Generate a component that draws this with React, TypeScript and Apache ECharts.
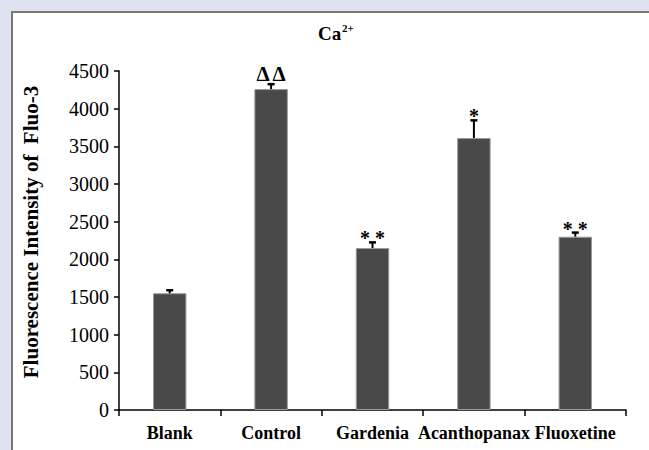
import React, { useEffect, useRef } from "react";
import * as echarts from "echarts";

const categories = ["Blank", "Control", "Gardenia", "Acanthopanax", "Fluoxetine"];
const means = [1550, 4260, 2150, 3610, 2300];
const errors = [40, 65, 75, 235, 55];
const marks = ["", "Δ Δ", "* *", "*", "* *"];
const yTicks = { min: 0, max: 4500, interval: 500 };
const yAxisTitle = "Fluorescence Intensity of  Fluo-3";
const titleMain = "Ca";
const titleSup = "2+";

const SERIF = "'Liberation Serif', 'DejaVu Serif', serif";

export default function App() {
  const ref = useRef<HTMLDivElement>(null);
  useEffect(() => {
    const chart = echarts.init(ref.current!, undefined, { renderer: "svg" });
    const errData = categories.map((c, i) => [i, means[i], means[i] + errors[i]]);
    chart.setOption({
      animation: false,
      backgroundColor: "#dfe2f1",
      graphic: [
        {
          type: "rect",
          z: -10,
          shape: { x: 12, y: 12, width: 700, height: 500 },
          style: { fill: "#ffffff", stroke: "#777777", lineWidth: 2 },
        },
        {
          type: "text",
          x: 31,
          y: 232,
          rotation: Math.PI / 2,
          style: {
            text: yAxisTitle,
            align: "center",
            verticalAlign: "middle",
            fontFamily: SERIF,
            fontWeight: "bold",
            fontSize: 21,
            fill: "#000",
          },
        },
        {
          type: "text",
          x: 318,
          y: 33,
          style: {
            text: titleMain,
            align: "left",
            verticalAlign: "middle",
            fontFamily: SERIF,
            fontWeight: "bold",
            fontSize: 19,
            fill: "#000",
          },
        },
        {
          type: "text",
          x: 342,
          y: 28,
          style: {
            text: titleSup,
            align: "left",
            verticalAlign: "middle",
            fontFamily: SERIF,
            fontWeight: "bold",
            fontSize: 11,
            fill: "#000",
          },
        },
      ],
      grid: { left: 119, right: 23, top: 71, bottom: 40 },
      xAxis: {
        type: "category",
        data: categories,
        boundaryGap: true,
        axisLine: { lineStyle: { color: "#000", width: 1.5 } },
        axisTick: { show: true, length: 6, alignWithLabel: false, lineStyle: { color: "#000", width: 1.5 } },
        axisLabel: { fontFamily: SERIF, fontWeight: "bold", fontSize: 18, color: "#000", margin: 14, interval: 0 },
      },
      yAxis: {
        type: "value",
        min: yTicks.min,
        max: yTicks.max,
        interval: yTicks.interval,
        axisLine: { show: true, lineStyle: { color: "#000", width: 1.5 } },
        axisTick: { show: true, length: 5, lineStyle: { color: "#000", width: 1.5 } },
        axisLabel: { fontFamily: SERIF, fontSize: 20, color: "#000", margin: 10, formatter: (v: number) => String(v) },
        splitLine: { show: false },
      },
      series: [
        {
          type: "bar",
          data: means,
          barWidth: "33%",
          itemStyle: { color: "#494949", borderColor: "#9a9a9a", borderWidth: 1 },
        },
        {
          type: "custom",
          data: errData,
          z: 5,
          renderItem: (params: any, api: any) => {
            const x = api.value(0);
            const lo = api.coord([x, api.value(1)]);
            const hi = api.coord([x, api.value(2)]);
            const mark = marks[params.dataIndex];
            const children: any[] = [
              { type: "line", shape: { x1: lo[0], y1: lo[1], x2: hi[0], y2: hi[1] }, style: { stroke: "#000", lineWidth: 2 } },
              { type: "line", shape: { x1: hi[0] - 3.5, y1: hi[1], x2: hi[0] + 3.5, y2: hi[1] }, style: { stroke: "#000", lineWidth: 2.5 } },
            ];
            if (mark) {
              const isDelta = mark.includes("Δ");
              children.push({
                type: "text",
                style: {
                  text: mark,
                  x: hi[0],
                  y: isDelta ? hi[1] : hi[1] + 6,
                  align: "center",
                  verticalAlign: "bottom",
                  fontFamily: SERIF,
                  fontWeight: "bold",
                  fontSize: isDelta ? 21 : 20,
                  fill: "#000",
                },
              });
            }
            return { type: "group", children };
          },
        },
      ],
    });
    return () => chart.dispose();
  }, []);
  return <div ref={ref} style={{ position: "absolute", left: 0, top: 0, width: 649, height: 450 }} />;
}
